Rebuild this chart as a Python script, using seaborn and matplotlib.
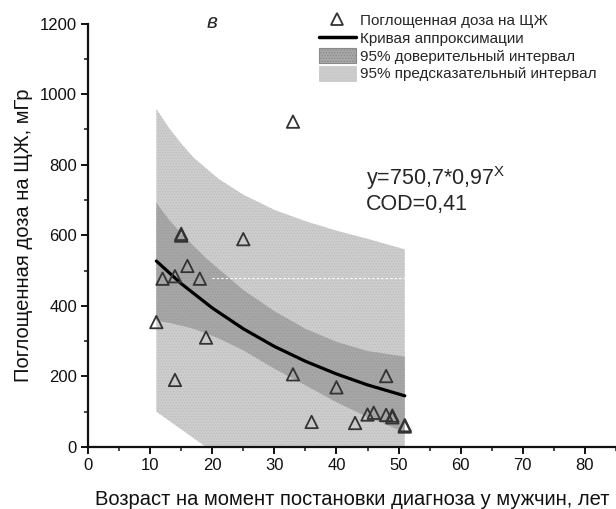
import numpy as np
import pandas as pd
import seaborn as sns
import matplotlib.pyplot as plt
from matplotlib.lines import Line2D
from matplotlib.patches import Patch

# measured points: age at diagnosis (men), absorbed thyroid dose
age = [11, 12, 14, 14, 15, 15, 16, 18, 19, 25, 33, 33, 36, 40, 43, 45, 46, 48, 48, 49, 49, 51, 51]
dose = [354, 477, 484, 190, 604, 599, 513, 477, 310, 589, 922, 206, 71, 169, 68, 92, 97, 201, 91, 89, 84, 62, 58]

# fitted curve
curve_x = [11, 15, 20, 25, 30, 35, 40, 45, 51]
curve_y = [527, 463, 394, 335, 285, 243, 207, 176, 145]

# band edges
band_x = [11, 13, 15, 17, 19, 21, 25, 30, 35, 40, 45, 51]
ci_hi = [692, 645, 605, 570, 535, 505, 445, 385, 335, 298, 272, 256]
ci_lo = [358, 352, 344, 335, 322, 308, 274, 222, 175, 127, 85, 42]
pi_hi = [958, 905, 860, 820, 790, 760, 715, 672, 640, 613, 590, 560]
pi_lo = [100, 75, 50, 25, 0, 0, 0, 0, 0, 0, 0, 0]

labels = ["Поглощенная доза на ЩЖ", "Кривая аппроксимации",
          "95% доверительный интервал", "95% предсказательный интервал"]

df = pd.DataFrame({"age": age, "dose": dose})
fit = pd.DataFrame({"x": curve_x, "y": curve_y})

sns.set_theme(style="ticks")
plt.rcParams["font.family"] = ["Liberation Sans", "DejaVu Sans"]
plt.rcParams["mathtext.fontset"] = "custom"
plt.rcParams["mathtext.rm"] = "Liberation Sans"
plt.rcParams["mathtext.default"] = "regular"
plt.rcParams["hatch.linewidth"] = 0.6

fig = plt.figure(figsize=(6.16, 5.09), dpi=100)
ax = fig.add_axes([0.1429, 0.1218, 0.857, 0.832])

light = "#cdcdcd"
dark = "#a7a7a7"

ax.fill_between(band_x, pi_lo, pi_hi, facecolor=light, edgecolor="#bdbdbd",
                hatch="......", linewidth=0, zorder=1)
ax.fill_between(band_x, ci_lo, ci_hi, facecolor=dark, edgecolor="#9a9a9a",
                hatch="......", linewidth=0, zorder=2)
ax.hlines(478, 20, 51, colors="white", linestyles=(0, (2, 2)), linewidth=0.8, zorder=2)

sns.lineplot(data=fit, x="x", y="y", color="black", linewidth=2.3, ax=ax, zorder=3)
sns.scatterplot(data=df, x="age", y="dose", marker="^", s=80, facecolor="none",
                edgecolor="#333333", linewidth=1.3, ax=ax, zorder=4)

ax.set_xlim(0, 85)
ax.set_ylim(0, 1200)
ax.set_xticks(range(0, 81, 10))
ax.set_xticks(range(0, 86, 5), minor=True)
ax.set_yticks(range(0, 1201, 200))
ax.set_yticks(range(0, 1201, 100), minor=True)
ax.tick_params(which="major", direction="out", length=5, width=1.4, labelsize=12,
               colors="#111111", pad=3)
ax.tick_params(which="minor", direction="out", length=3, width=1.2)
for s in ["left", "bottom"]:
    ax.spines[s].set_linewidth(1.6)
    ax.spines[s].set_color("#111111")
sns.despine(ax=ax)

ax.set_xlabel("Возраст на момент постановки диагноза у мужчин, лет", fontsize=14.5,
              labelpad=12, color="#111111")
ax.set_ylabel("Поглощенная доза на ЩЖ, мГр", fontsize=14.5, labelpad=5, color="#111111")

ax.text(20, 1204, "в", fontsize=15, style="italic", ha="center", va="center", clip_on=False)
ax.text(44.7, 762, "y=750,7*0,97$^{X}$", fontsize=15.5, ha="left", va="center")
ax.text(44.7, 686, "COD=0,41", fontsize=15.5, ha="left", va="center")

handles = [
    Line2D([], [], linestyle="none", marker="^", markersize=8.5, markerfacecolor="none",
           markeredgecolor="#333333", markeredgewidth=1.3),
    Line2D([], [], color="black", linewidth=2.5),
    Patch(facecolor=dark, edgecolor="#8a8a8a", hatch="......", linewidth=0.8),
    Patch(facecolor=light, edgecolor="#c4c4c4", hatch="......", linewidth=0.5),
]
ax.legend(handles, labels, loc="upper left", bbox_to_anchor=(0.4375, 1.026),
          frameon=False, fontsize=11, handlelength=2.4, handleheight=1.1,
          handletextpad=0.3, labelspacing=0.15, borderpad=0, borderaxespad=0)

plt.savefig("out.png", dpi=100)
